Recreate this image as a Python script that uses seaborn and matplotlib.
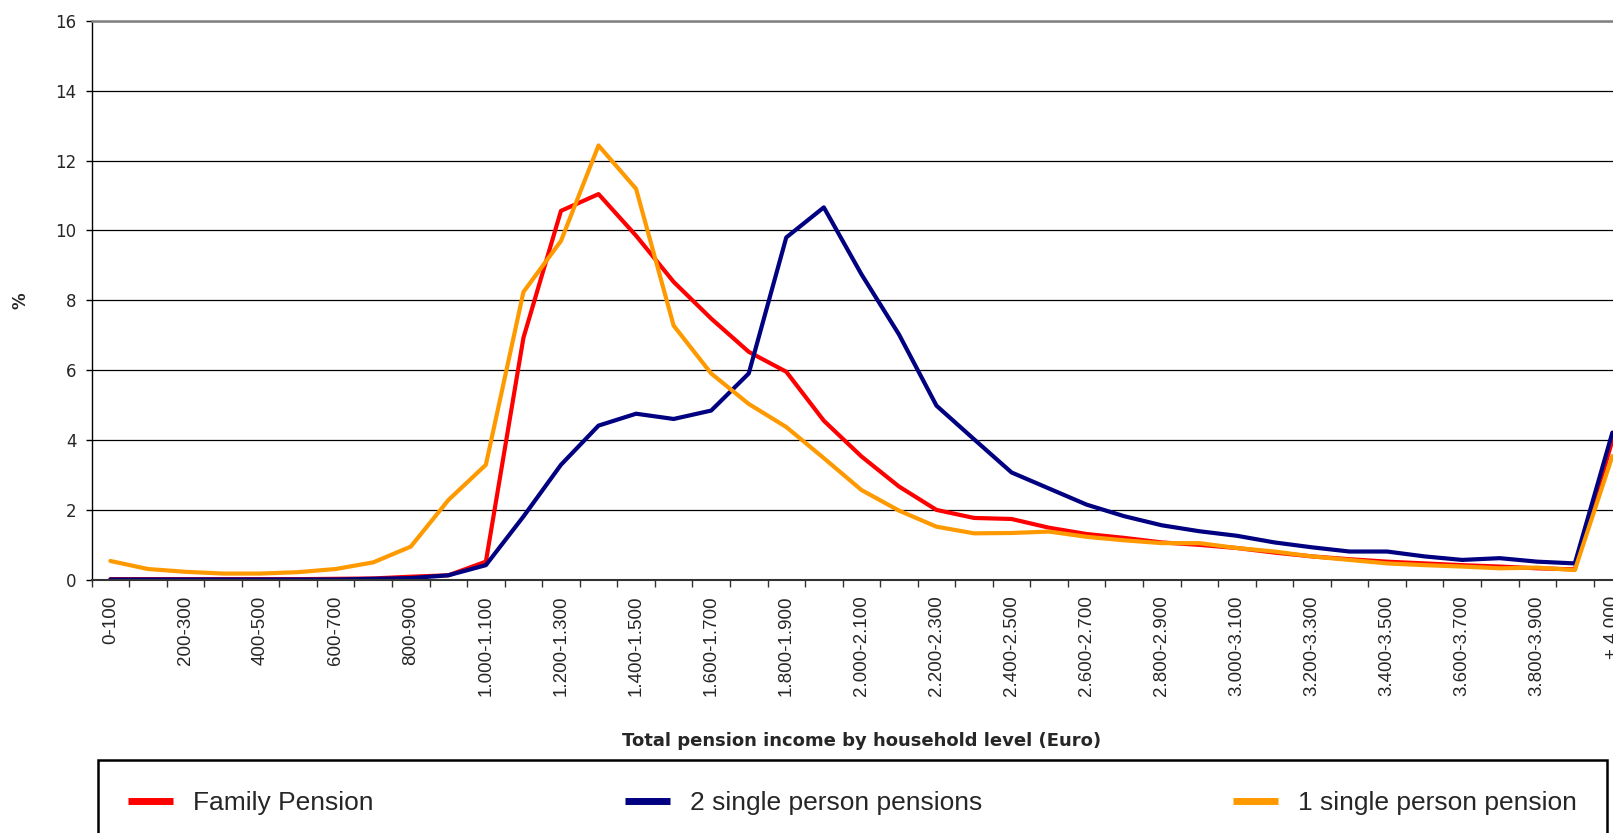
import numpy as np
import pandas as pd
import matplotlib
matplotlib.use("Agg")
import matplotlib.pyplot as plt
from matplotlib.patches import Rectangle
import seaborn as sns

categories = ["0-100", "100-200", "200-300", "300-400", "400-500", "500-600",
              "600-700", "700-800", "800-900", "900-1.000", "1.000-1.100",
              "1.100-1.200", "1.200-1.300", "1.300-1.400", "1.400-1.500",
              "1.500-1.600", "1.600-1.700", "1.700-1.800", "1.800-1.900",
              "1.900-2.000", "2.000-2.100", "2.100-2.200", "2.200-2.300",
              "2.300-2.400", "2.400-2.500", "2.500-2.600", "2.600-2.700",
              "2.700-2.800", "2.800-2.900", "2.900-3.000", "3.000-3.100",
              "3.100-3.200", "3.200-3.300", "3.300-3.400", "3.400-3.500",
              "3.500-3.600", "3.600-3.700", "3.700-3.800", "3.800-3.900",
              "3.900-4.000", "+ 4.000"]

family_pension = [0.03, 0.03, 0.03, 0.03, 0.03, 0.03, 0.04, 0.05, 0.10, 0.14,
                  0.53, 6.93, 10.56, 11.04, 9.85, 8.53, 7.48, 6.53, 5.96, 4.56,
                  3.54, 2.68, 2.01, 1.78, 1.75, 1.50, 1.32, 1.21, 1.08, 1.01,
                  0.92, 0.79, 0.68, 0.60, 0.53, 0.48, 0.43, 0.39, 0.34, 0.31,
                  4.0]
two_single = [0.02, 0.02, 0.02, 0.02, 0.02, 0.02, 0.02, 0.04, 0.06, 0.14,
              0.43, 1.82, 3.30, 4.42, 4.76, 4.61, 4.85, 5.91, 9.80, 10.66,
              8.75, 7.03, 4.99, 4.03, 3.08, 2.62, 2.16, 1.83, 1.57, 1.40,
              1.27, 1.08, 0.94, 0.82, 0.82, 0.68, 0.58, 0.63, 0.53, 0.48,
              4.22]
one_single = [0.55, 0.32, 0.24, 0.19, 0.19, 0.23, 0.32, 0.51, 0.96, 2.29,
              3.30, 8.24, 9.70, 12.43, 11.19, 7.28, 5.91, 5.04, 4.38, 3.49,
              2.58, 1.99, 1.53, 1.34, 1.35, 1.39, 1.24, 1.14, 1.06, 1.06,
              0.92, 0.82, 0.68, 0.58, 0.48, 0.43, 0.39, 0.34, 0.36, 0.29,
              3.55]

series_names = ["Family Pension", "2 single person pensions", "1 single person pension"]
colors = {"Family Pension": "#FF0000",
          "2 single person pensions": "#000080",
          "1 single person pension": "#FF9900"}
y_ticks = [0, 2, 4, 6, 8, 10, 12, 14, 16]

pos = np.arange(len(categories))
df = pd.concat([
    pd.DataFrame({"pos": pos, "value": vals, "series": name})
    for name, vals in zip(series_names, [family_pension, two_single, one_single])
], ignore_index=True)

sns.set_style("white")
plt.rcParams["font.family"] = ["DejaVu Sans"]

W, H = 1613, 833
fig = plt.figure(figsize=(W / 100, H / 100), dpi=100)
left_px, bottom_px, top_px = 91.6, 580.2, 20.6
width_px = 41 * 37.55
ax = fig.add_axes([left_px / W, (H - bottom_px) / H, width_px / W, (bottom_px - top_px) / H])

sns.lineplot(data=df, x="pos", y="value", hue="series", hue_order=series_names,
             palette=colors, linewidth=3, sort=False, ax=ax, legend=True)

ax.set_xlim(-0.5, 40.5)
ax.set_ylim(0, 16)
ax.set_yticks(y_ticks)
ax.set_yticklabels([str(t) for t in y_ticks], fontsize=12, family="DejaVu Sans")
ax.tick_params(axis="y", length=4, width=1, color="black", pad=7, left=True)

ax.set_xticks(pos[::2])
ax.set_xticklabels(categories[::2], rotation=90, fontsize=13.5,
                   family="Liberation Sans", va="top", ha="center")
ax.set_xticks(np.arange(-0.5, 41, 1), minor=True)
ax.tick_params(axis="x", which="major", length=0, pad=11)
ax.tick_params(axis="x", which="minor", length=5, width=1, color="#333333", bottom=True)

ax.yaxis.grid(True, color="black", linewidth=0.9)
ax.set_axisbelow(True)
ax.spines["left"].set_color("black")
ax.spines["bottom"].set_color("#333333")
ax.spines["left"].set_linewidth(1.0)
ax.spines["bottom"].set_linewidth(1.5)
ax.spines["top"].set_color("#808080")
ax.spines["top"].set_linewidth(1.8)
ax.spines["right"].set_visible(False)

ax.set_xlabel("Total pension income by household level (Euro)", fontsize=13,
              fontweight="bold", family="DejaVu Sans")
ax.xaxis.set_label_coords(0.5, ((H - 741) / H - (H - bottom_px) / H) / ((bottom_px - top_px) / H))
ax.xaxis.label.set_va("center")
ax.set_ylabel("%", fontsize=12, fontweight="bold", family="DejaVu Sans")
ax.yaxis.set_label_coords((21 - left_px) / width_px, 0.5)
ax.yaxis.label.set_va("center")

handles, labels = ax.get_legend_handles_labels()
leg = ax.legend(handles, labels, ncol=3, mode="expand", loc="center left",
                bbox_to_anchor=(128 / W, (H - 803) / H, (1577 - 128) / W, 0),
                bbox_transform=fig.transFigure, frameon=False,
                borderpad=0, borderaxespad=0, handlelength=1.7, handletextpad=0.75,
                prop={"family": "Liberation Sans", "size": 19})
for ln in leg.get_lines():
    ln.set_linewidth(5)
    ln.set_solid_capstyle("butt")

fig.patches.append(Rectangle((98 / W, -0.05), (1607 - 98) / W, (H - 760) / H + 0.05,
                             transform=fig.transFigure, fill=False,
                             edgecolor="black", linewidth=1.8, figure=fig))

fig.savefig("out.png", dpi=100, facecolor="white")
